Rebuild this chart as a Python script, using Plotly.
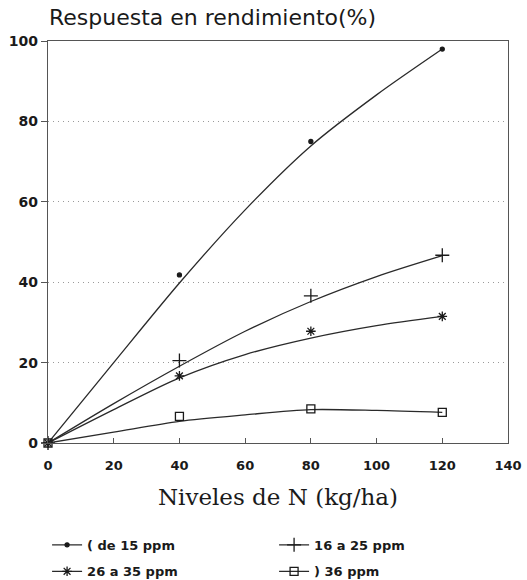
import plotly.graph_objects as go

# Measured data points
niveles = [0, 40, 80, 120]
names = ["( de 15 ppm", "16 a 25 ppm", "26 a 35 ppm", ") 36 ppm"]
s1 = [0, 41.8, 75, 98]
s2 = [0, 20.5, 36.6, 46.7]
s3 = [0, 16.7, 27.8, 31.5]
s4 = [0, 6.6, 8.5, 7.6]

# Fitted response curves as drawn in the picture (read at 20 kg/ha steps)
curve_x = [0, 20, 40, 60, 80, 100, 120]
f1 = [0, 20, 39.8, 58, 73.9, 86.6, 98]
f2 = [0, 9.8, 19.1, 27.8, 35.2, 41.4, 46.6]
f3 = [0, 8.3, 16.2, 22, 26.1, 29.2, 31.5]
f4 = [0, 2.7, 5.4, 7.0, 8.3, 8.1, 7.6]

series = [s1, s2, s3, s4]
curves = [f1, f2, f3, f4]
symbols = ["circle", "cross-thin", "asterisk-open", "square-open"]
sizes = [4, 10, 8, 8]
legends = ["legend", "legend", "legend2", "legend2"]

ink = "#1a1a1a"
fig = go.Figure()
for ys, fy, nm, sym, sz, lg in zip(series, curves, names, symbols, sizes, legends):
    fig.add_trace(go.Scatter(x=curve_x, y=fy, mode="lines",
                             line=dict(color="#2a2a2a", width=1.3, shape="spline", smoothing=0.8),
                             showlegend=False, hoverinfo="skip"))
    mk = dict(symbol=sym, size=sz, color=ink, line=dict(color=ink, width=1.3))
    fig.add_trace(go.Scatter(x=niveles, y=ys, mode="markers", marker=mk,
                             showlegend=False, cliponaxis=False))
    fig.add_trace(go.Scatter(x=[None], y=[None], mode="lines+markers", name=nm,
                             marker=mk, line=dict(color="#2a2a2a", width=1.3), legend=lg))

sans = "DejaVu Sans"
serif = "DejaVu Serif"
legfont = dict(family=sans, size=13, color=ink, weight="bold")
fig.update_layout(
    width=527, height=580,
    margin=dict(l=48, r=19, t=41, b=137, autoexpand=False),
    paper_bgcolor="white", plot_bgcolor="white",
    title=dict(text="Respuesta en rendimiento(%)", x=49/527, xanchor="left",
               y=1-17/580, yanchor="middle",
               font=dict(family=sans, size=22, color=ink)),
    legend=dict(orientation="h", x=-0.002, xanchor="left", y=-0.216, yanchor="top",
                entrywidth=182, entrywidthmode="pixels", font=legfont),
    legend2=dict(orientation="h", x=-0.002, xanchor="left", y=-0.282, yanchor="top",
                 entrywidth=182, entrywidthmode="pixels", font=legfont),
    showlegend=True,
)
fig.update_xaxes(range=[0, 140], dtick=20, showgrid=False, zeroline=False,
                 showline=True, mirror=True, linecolor="#555", linewidth=1.3,
                 ticks="inside", ticklen=5, tickcolor="#555", ticklabelstandoff=10,
                 tickfont=dict(family=sans, size=13, color=ink, weight="bold"),
                 title=dict(text="Niveles de N (kg/ha)", standoff=17,
                            font=dict(family=serif, size=23, color=ink)))
fig.update_yaxes(range=[0, 100], dtick=20, showgrid=True, gridcolor="#9a9a9a",
                 griddash="1px,4px", gridwidth=1.2, zeroline=False,
                 showline=True, mirror=True, linecolor="#555", linewidth=1.3,
                 ticks="outside", ticklen=6, tickcolor="#555",
                 tickfont=dict(family=sans, size=14, color=ink, weight="bold"))

fig.write_html("out.html", config={"displayModeBar": False},
               post_script="document.body.style.margin='0px';")
